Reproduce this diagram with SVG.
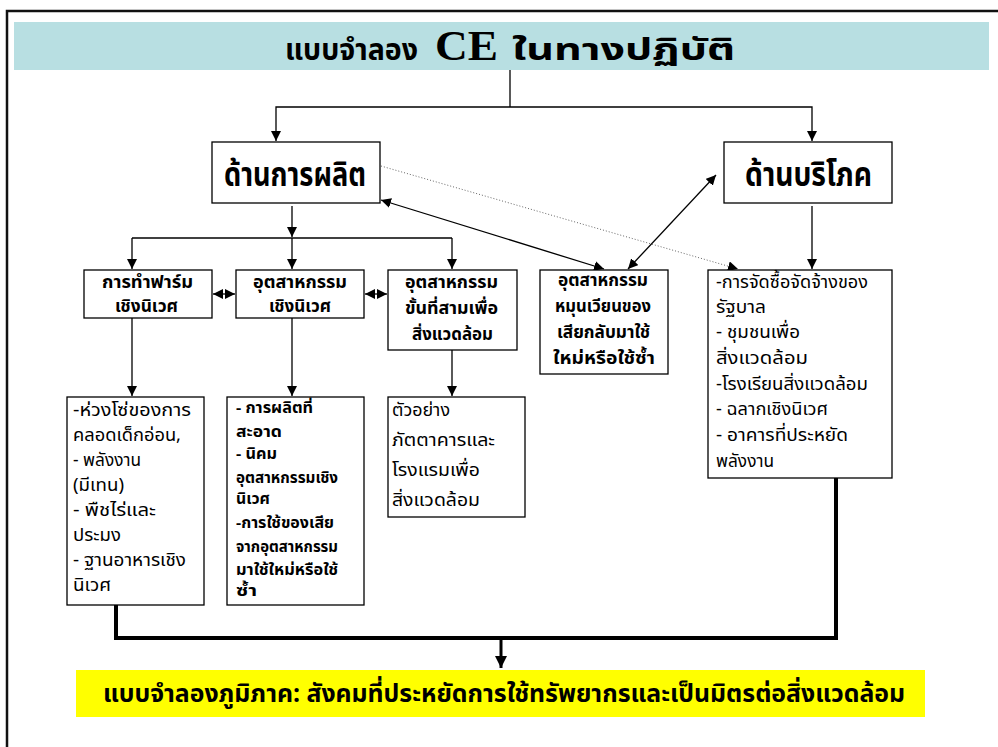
<svg xmlns="http://www.w3.org/2000/svg" width="998" height="747" viewBox="0 0 998 747">
<defs>
<marker id="ah" viewBox="0 0 10 10" refX="10" refY="5" markerWidth="10" markerHeight="10" markerUnits="userSpaceOnUse" orient="auto-start-reverse"><path d="M0,0 L10,5 L0,10 Z" fill="#000"/></marker>
<marker id="ahb" viewBox="0 0 10 10" refX="10" refY="5" markerWidth="12" markerHeight="12" markerUnits="userSpaceOnUse" orient="auto"><path d="M0,0 L10,5 L0,10 Z" fill="#000"/></marker>
<style>
.box{fill:#fff;stroke:#000;stroke-width:1.3}
.c{fill:none;stroke:#000;stroke-width:1.3}
.th{font-family:"Noto Sans Thai","Noto Serif Thai","Loma","Garuda","Norasi","TlwgTypo",sans-serif;fill:#000}
.b{font-weight:bold}
.big{font-size:34px}
.m{font-size:17px}
.r{font-size:18px}
.s{font-size:15px}
</style>
</defs>
<rect x="0" y="0" width="998" height="747" fill="#fff"/>
<rect x="7" y="11" width="1000" height="750" fill="none" stroke="#111" stroke-width="2.5"/>
<g id="title">
<rect x="14" y="22" width="975" height="48" fill="#b8dfe2"/>
<text class="th b" font-size="30" y="60"><tspan x="285" textLength="133" lengthAdjust="spacingAndGlyphs">แบบจำลอง</tspan><tspan x="435" font-family="'Liberation Serif',serif" font-size="42" textLength="63" lengthAdjust="spacingAndGlyphs">CE</tspan><tspan x="512" textLength="223" lengthAdjust="spacingAndGlyphs">ในทางปฏิบัติ</tspan></text>
</g>
<g id="connectors">
<polyline class="c" points="510,70 510,107"/>
<polyline class="c" points="510,107 276,107 276,141" marker-end="url(#ah)"/>
<polyline class="c" points="510,107 812,107 812,141" marker-end="url(#ah)"/>
<line class="c" x1="292" y1="206" x2="292" y2="237" marker-end="url(#ah)"/>
<polyline class="c" points="132,238 452,238"/>
<line class="c" x1="132" y1="238" x2="132" y2="269" marker-end="url(#ah)"/>
<line class="c" x1="292" y1="238" x2="292" y2="269" marker-end="url(#ah)"/>
<line class="c" x1="452" y1="238" x2="452" y2="269" marker-end="url(#ah)"/>
<line class="c" x1="812" y1="206" x2="812" y2="269" marker-end="url(#ah)"/>
<line class="c" x1="213" y1="294" x2="235" y2="294" marker-start="url(#ah)" marker-end="url(#ah)"/>
<line class="c" x1="365" y1="294" x2="387" y2="294" marker-start="url(#ah)" marker-end="url(#ah)"/>
<line class="c" x1="381" y1="200" x2="604" y2="269" marker-start="url(#ah)" marker-end="url(#ah)"/>
<line class="c" x1="628" y1="269" x2="716" y2="175" marker-start="url(#ah)" marker-end="url(#ah)"/>
<line x1="381" y1="166" x2="738" y2="269" stroke="#666" stroke-width="1" stroke-dasharray="1,2" marker-end="url(#ah)"/>
<line class="c" x1="132" y1="318" x2="132" y2="396" marker-end="url(#ah)"/>
<line class="c" x1="292" y1="318" x2="292" y2="396" marker-end="url(#ah)"/>
<line class="c" x1="452" y1="350" x2="452" y2="396" marker-end="url(#ah)"/>
<polyline points="116,605 116,638 836,638 836,478" fill="none" stroke="#000" stroke-width="4"/>
<line x1="501" y1="638" x2="501" y2="668" stroke="#000" stroke-width="3" marker-end="url(#ahb)"/>
</g>
<g id="production">
<rect class="box" x="212" y="142" width="168" height="61"/>
<text class="th b big" x="224" y="186" textLength="142" lengthAdjust="spacingAndGlyphs">ด้านการผลิต</text>
</g>
<g id="consumption">
<rect class="box" x="724" y="142" width="168" height="61"/>
<text class="th b big" x="745" y="186" textLength="127" lengthAdjust="spacingAndGlyphs">ด้านบริโภค</text>
</g>
<g id="eco-farm">
<rect class="box" x="84" y="270" width="128" height="48"/>
<text class="th b m"><tspan x="102" y="288" textLength="91" lengthAdjust="spacingAndGlyphs">การทำฟาร์ม</tspan><tspan x="115" y="312" textLength="63" lengthAdjust="spacingAndGlyphs">เชิงนิเวศ</tspan></text>
</g>
<g id="eco-industry">
<rect class="box" x="236" y="270" width="128" height="48"/>
<text class="th b m"><tspan x="253" y="288" textLength="94" lengthAdjust="spacingAndGlyphs">อุตสาหกรรม</tspan><tspan x="269" y="312" textLength="62" lengthAdjust="spacingAndGlyphs">เชิงนิเวศ</tspan></text>
</g>
<g id="tertiary-industry">
<rect class="box" x="388" y="270" width="129" height="80"/>
<text class="th b m"><tspan x="405" y="288" textLength="93" lengthAdjust="spacingAndGlyphs">อุตสาหกรรม</tspan><tspan x="405" y="314" textLength="93" lengthAdjust="spacingAndGlyphs">ขั้นที่สามเพื่อ</tspan><tspan x="412" y="340" textLength="81" lengthAdjust="spacingAndGlyphs">สิ่งแวดล้อม</tspan></text>
</g>
<g id="recycling-industry">
<rect class="box" x="540" y="270" width="128" height="104"/>
<text class="th b m"><tspan x="558" y="286" textLength="90" lengthAdjust="spacingAndGlyphs">อุตสาหกรรม</tspan><tspan x="555" y="312" textLength="96" lengthAdjust="spacingAndGlyphs">หมุนเวียนของ</tspan><tspan x="557" y="338" textLength="93" lengthAdjust="spacingAndGlyphs">เสียกลับมาใช้</tspan><tspan x="553" y="364" textLength="102" lengthAdjust="spacingAndGlyphs">ใหม่หรือใช้ซ้ำ</tspan></text>
</g>
<g id="consumption-list">
<rect class="box" x="708" y="270" width="184" height="208"/>
<text class="th r"><tspan x="716" y="288" textLength="152" lengthAdjust="spacingAndGlyphs">-การจัดซื้อจัดจ้างของ</tspan><tspan x="716" y="313" textLength="50" lengthAdjust="spacingAndGlyphs">รัฐบาล</tspan><tspan x="716" y="338" textLength="84" lengthAdjust="spacingAndGlyphs">- ชุมชนเพื่อ</tspan><tspan x="716" y="364" textLength="92" lengthAdjust="spacingAndGlyphs">สิ่งแวดล้อม</tspan><tspan x="716" y="390" textLength="152" lengthAdjust="spacingAndGlyphs">-โรงเรียนสิ่งแวดล้อม</tspan><tspan x="716" y="415" textLength="112" lengthAdjust="spacingAndGlyphs">- ฉลากเชิงนิเวศ</tspan><tspan x="716" y="441" textLength="132" lengthAdjust="spacingAndGlyphs">- อาคารที่ประหยัด</tspan><tspan x="716" y="467" textLength="58" lengthAdjust="spacingAndGlyphs">พลังงาน</tspan></text>
</g>
<g id="farm-list">
<rect class="box" x="67" y="397" width="137" height="208"/>
<text class="th r"><tspan x="73" y="416" textLength="118" lengthAdjust="spacingAndGlyphs">-ห่วงโซ่ของการ</tspan><tspan x="73" y="441" textLength="108" lengthAdjust="spacingAndGlyphs">คลอดเด็กอ่อน,</tspan><tspan x="73" y="466" textLength="68" lengthAdjust="spacingAndGlyphs">- พลังงาน</tspan><tspan x="73" y="491" textLength="51" lengthAdjust="spacingAndGlyphs">(มีเทน)</tspan><tspan x="73" y="516" textLength="83" lengthAdjust="spacingAndGlyphs">- พืชไร่และ</tspan><tspan x="73" y="541" textLength="48" lengthAdjust="spacingAndGlyphs">ประมง</tspan><tspan x="73" y="566" textLength="113" lengthAdjust="spacingAndGlyphs">- ฐานอาหารเชิง</tspan><tspan x="73" y="591" textLength="38" lengthAdjust="spacingAndGlyphs">นิเวศ</tspan></text>
</g>
<g id="industry-list">
<rect class="box" x="227" y="397" width="137" height="208"/>
<text class="th b s"><tspan x="236" y="413" textLength="77" lengthAdjust="spacingAndGlyphs">- การผลิตที่</tspan><tspan x="236" y="437" textLength="46" lengthAdjust="spacingAndGlyphs">สะอาด</tspan><tspan x="236" y="459" textLength="41" lengthAdjust="spacingAndGlyphs">- นิคม</tspan><tspan x="236" y="483" textLength="102" lengthAdjust="spacingAndGlyphs">อุตสาหกรรมเชิง</tspan><tspan x="236" y="504" textLength="34" lengthAdjust="spacingAndGlyphs">นิเวศ</tspan><tspan x="236" y="528" textLength="98" lengthAdjust="spacingAndGlyphs">-การใช้ของเสีย</tspan><tspan x="236" y="552" textLength="102" lengthAdjust="spacingAndGlyphs">จากอุตสาหกรรม</tspan><tspan x="236" y="575" textLength="102" lengthAdjust="spacingAndGlyphs">มาใช้ใหม่หรือใช้</tspan><tspan x="236" y="596" textLength="21" lengthAdjust="spacingAndGlyphs">ซ้ำ</tspan></text>
</g>
<g id="example-list">
<rect class="box" x="388" y="397" width="137" height="120"/>
<text class="th r"><tspan x="392" y="416" textLength="58" lengthAdjust="spacingAndGlyphs">ตัวอย่าง</tspan><tspan x="392" y="446" textLength="103" lengthAdjust="spacingAndGlyphs">ภัตตาคารและ</tspan><tspan x="392" y="476" textLength="88" lengthAdjust="spacingAndGlyphs">โรงแรมเพื่อ</tspan><tspan x="392" y="506" textLength="88" lengthAdjust="spacingAndGlyphs">สิ่งแวดล้อม</tspan></text>
</g>
<g id="regional-model">
<rect x="76" y="670" width="849" height="47" fill="#ffff00"/>
<text class="th b" font-size="25" x="103" y="702" textLength="802" lengthAdjust="spacingAndGlyphs">แบบจำลองภูมิภาค: สังคมที่ประหยัดการใช้ทรัพยากรและเป็นมิตรต่อสิ่งแวดล้อม</text>
</g>
</svg>
